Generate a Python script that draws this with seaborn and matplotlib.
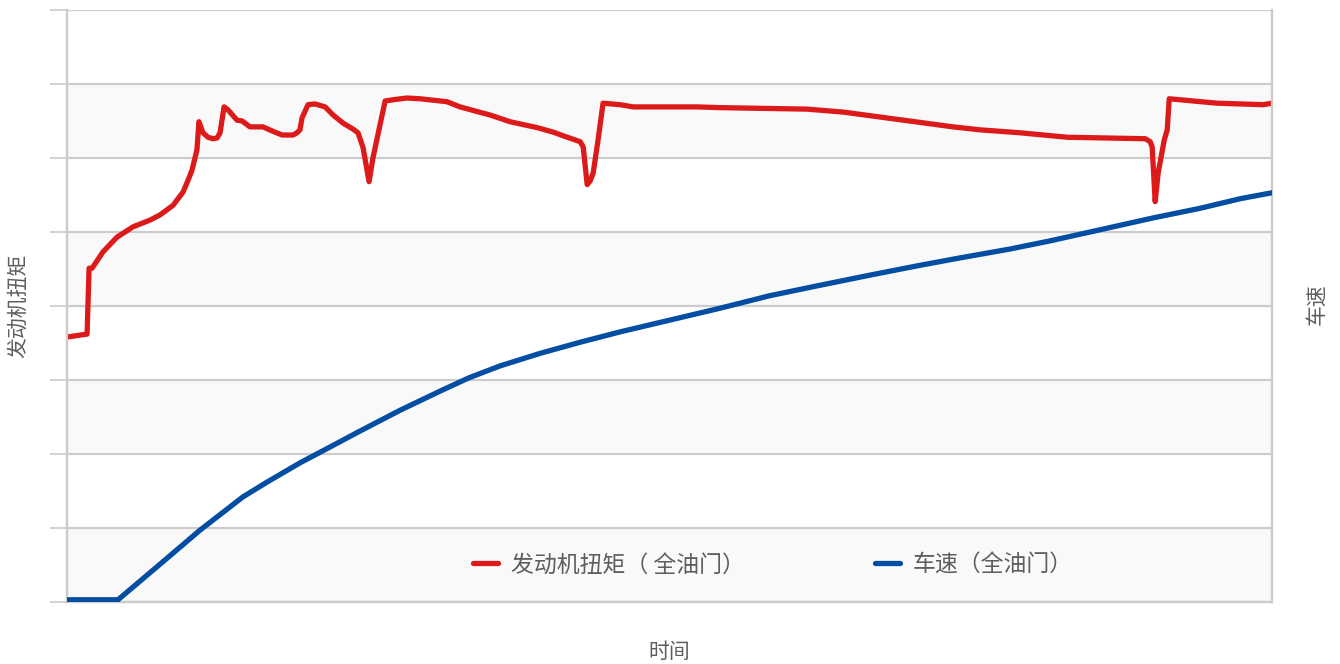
import numpy as np
import pandas as pd
import matplotlib
matplotlib.use("Agg")
import matplotlib.pyplot as plt
from matplotlib.lines import Line2D
import seaborn as sns

# time in s, torque / speed in gridline units (no tick labels on the original)
torque_time = [0.00, 1.00, 1.10, 1.25, 1.79, 2.49, 3.29, 4.13, 4.63, 5.28, 5.78, 6.03,
               6.23, 6.47, 6.57, 6.77, 7.02, 7.27, 7.47, 7.62, 7.82,
               8.02, 8.27, 8.47, 8.72, 9.11, 9.76, 10.26, 10.71, 11.25, 11.45, 11.60, 11.70,
               12.00, 12.35, 12.85, 13.25, 13.75, 14.24, 14.49, 14.74, 15.04, 15.24, 15.84, 16.33,
               16.93, 17.58, 18.92, 19.57, 21.07, 22.06, 23.41, 24.20, 24.70, 25.55, 25.70, 25.90,
               26.05, 26.20, 26.44, 26.69, 27.54, 28.19, 31.37, 32.52, 36.85, 38.65, 40.84, 44.12,
               45.47, 47.46, 49.80, 53.69, 53.93, 54.03, 54.18, 54.33, 54.63, 54.78, 54.88, 57.27,
               58.42, 59.56, 60.00]
torque = [3.58, 3.62, 4.51, 4.51, 4.73, 4.93, 5.07, 5.16, 5.23, 5.36, 5.54, 5.70,
          5.84, 6.11, 6.49, 6.34, 6.28, 6.26, 6.27, 6.34, 6.69,
          6.65, 6.57, 6.51, 6.50, 6.42, 6.42, 6.36, 6.31, 6.31, 6.34, 6.38, 6.54,
          6.72, 6.73, 6.69, 6.58, 6.47, 6.39, 6.34, 6.14, 5.68, 6.01, 6.77, 6.79,
          6.81, 6.80, 6.76, 6.69, 6.58, 6.49, 6.41, 6.35, 6.30, 6.22, 6.15, 5.64,
          5.69, 5.80, 6.24, 6.74, 6.72, 6.69, 6.69, 6.68, 6.66, 6.62, 6.54, 6.42,
          6.38, 6.34, 6.28, 6.26, 6.22, 6.15, 5.41, 5.80, 6.24, 6.38, 6.80, 6.74,
          6.73, 6.72, 6.74]

speed_time = [0.00, 2.54, 4.63, 6.62, 8.76, 9.96, 11.60, 13.00, 14.59, 16.58, 18.58, 20.02,
              21.56, 23.56, 25.55, 27.54, 30.03, 32.52, 35.01, 37.50, 40.04, 42.48, 44.47, 46.96,
              48.95, 51.44, 54.08, 56.42, 58.42, 60.00]
speed = [0.03, 0.03, 0.51, 0.97, 1.42, 1.62, 1.88, 2.08, 2.31, 2.59, 2.85, 3.03,
         3.19, 3.36, 3.51, 3.65, 3.81, 3.97, 4.14, 4.28, 4.42, 4.55, 4.65, 4.77,
         4.88, 5.03, 5.19, 5.32, 5.45, 5.53]

label_torque = "发动机扭矩（ 全油门）"
label_speed = "车速（全油门）"

RED = "#dd1a1a"
BLUE = "#034ea2"
GRID = "#cccccc"
TEXT = "#5e5e5e"

sns.set_style("white")
plt.rcParams["font.family"] = ["Noto Sans CJK SC", "DejaVu Sans"]

df_t = pd.DataFrame({"time": torque_time, "value": torque})
df_s = pd.DataFrame({"time": speed_time, "value": speed})

fig = plt.figure(figsize=(13.4, 6.64), dpi=100)
ax = fig.add_axes([0.05, 0.0934, 0.8993, 0.8916])
ax2 = ax.twinx()

# alternating light bands between gridlines
for lo in [0, 2, 4, 6]:
    ax.axhspan(lo, lo + 1, color="#f9f9f9", zorder=0, lw=0)

ax.set_xlim(0, 60)
ax.set_ylim(0, 8)
ax2.set_ylim(0, 8)
ax.set_yticks(range(0, 9))
ax.set_xticks(range(0, 61, 10))
ax2.set_yticks([])
ax.grid(axis="y", color=GRID, lw=1.6)
ax.set_axisbelow(True)
ax.tick_params(axis="y", length=12, color=GRID, width=1.2, labelleft=False)
ax.tick_params(axis="x", length=9, color=GRID, width=1.2, labelbottom=False)

for a in (ax, ax2):
    for side, sp in a.spines.items():
        sp.set_color(GRID)
        sp.set_linewidth(1.6)
    a.spines["top"].set_visible(False)

sns.lineplot(data=df_t, x="time", y="value", ax=ax, color=RED, lw=3.8, sort=False,
             solid_capstyle="round", solid_joinstyle="round", zorder=5)
sns.lineplot(data=df_s, x="time", y="value", ax=ax2, color=BLUE, lw=3.8, sort=False,
             solid_capstyle="round", solid_joinstyle="round", zorder=5)

ax.set_xlabel("")
ax.set_ylabel("")
ax2.set_ylabel("")
fig.text(18 / 1340, 1 - 306 / 664, "发动机扭矩", rotation=90, ha="center", va="center",
         fontsize=15, color=TEXT)
fig.text(1316 / 1340, 1 - 304 / 664, "车速", rotation=90, ha="center", va="center",
         fontsize=15, color=TEXT)
fig.text(669 / 1340, 1 - 652 / 664, "时间", ha="center", va="center",
         fontsize=15, color=TEXT)

handles = [Line2D([], [], color=RED, lw=3.8), Line2D([], [], color=BLUE, lw=3.8)]
fig.legend(handles, [label_torque, label_speed], loc="center",
           bbox_to_anchor=(773 / 1340, 1 - 565 / 664), ncol=2, frameon=False,
           fontsize=16.5, handlelength=1.1, handletextpad=0.55, columnspacing=5.7,
           labelcolor=TEXT)

fig.savefig("out.png", dpi=100)
